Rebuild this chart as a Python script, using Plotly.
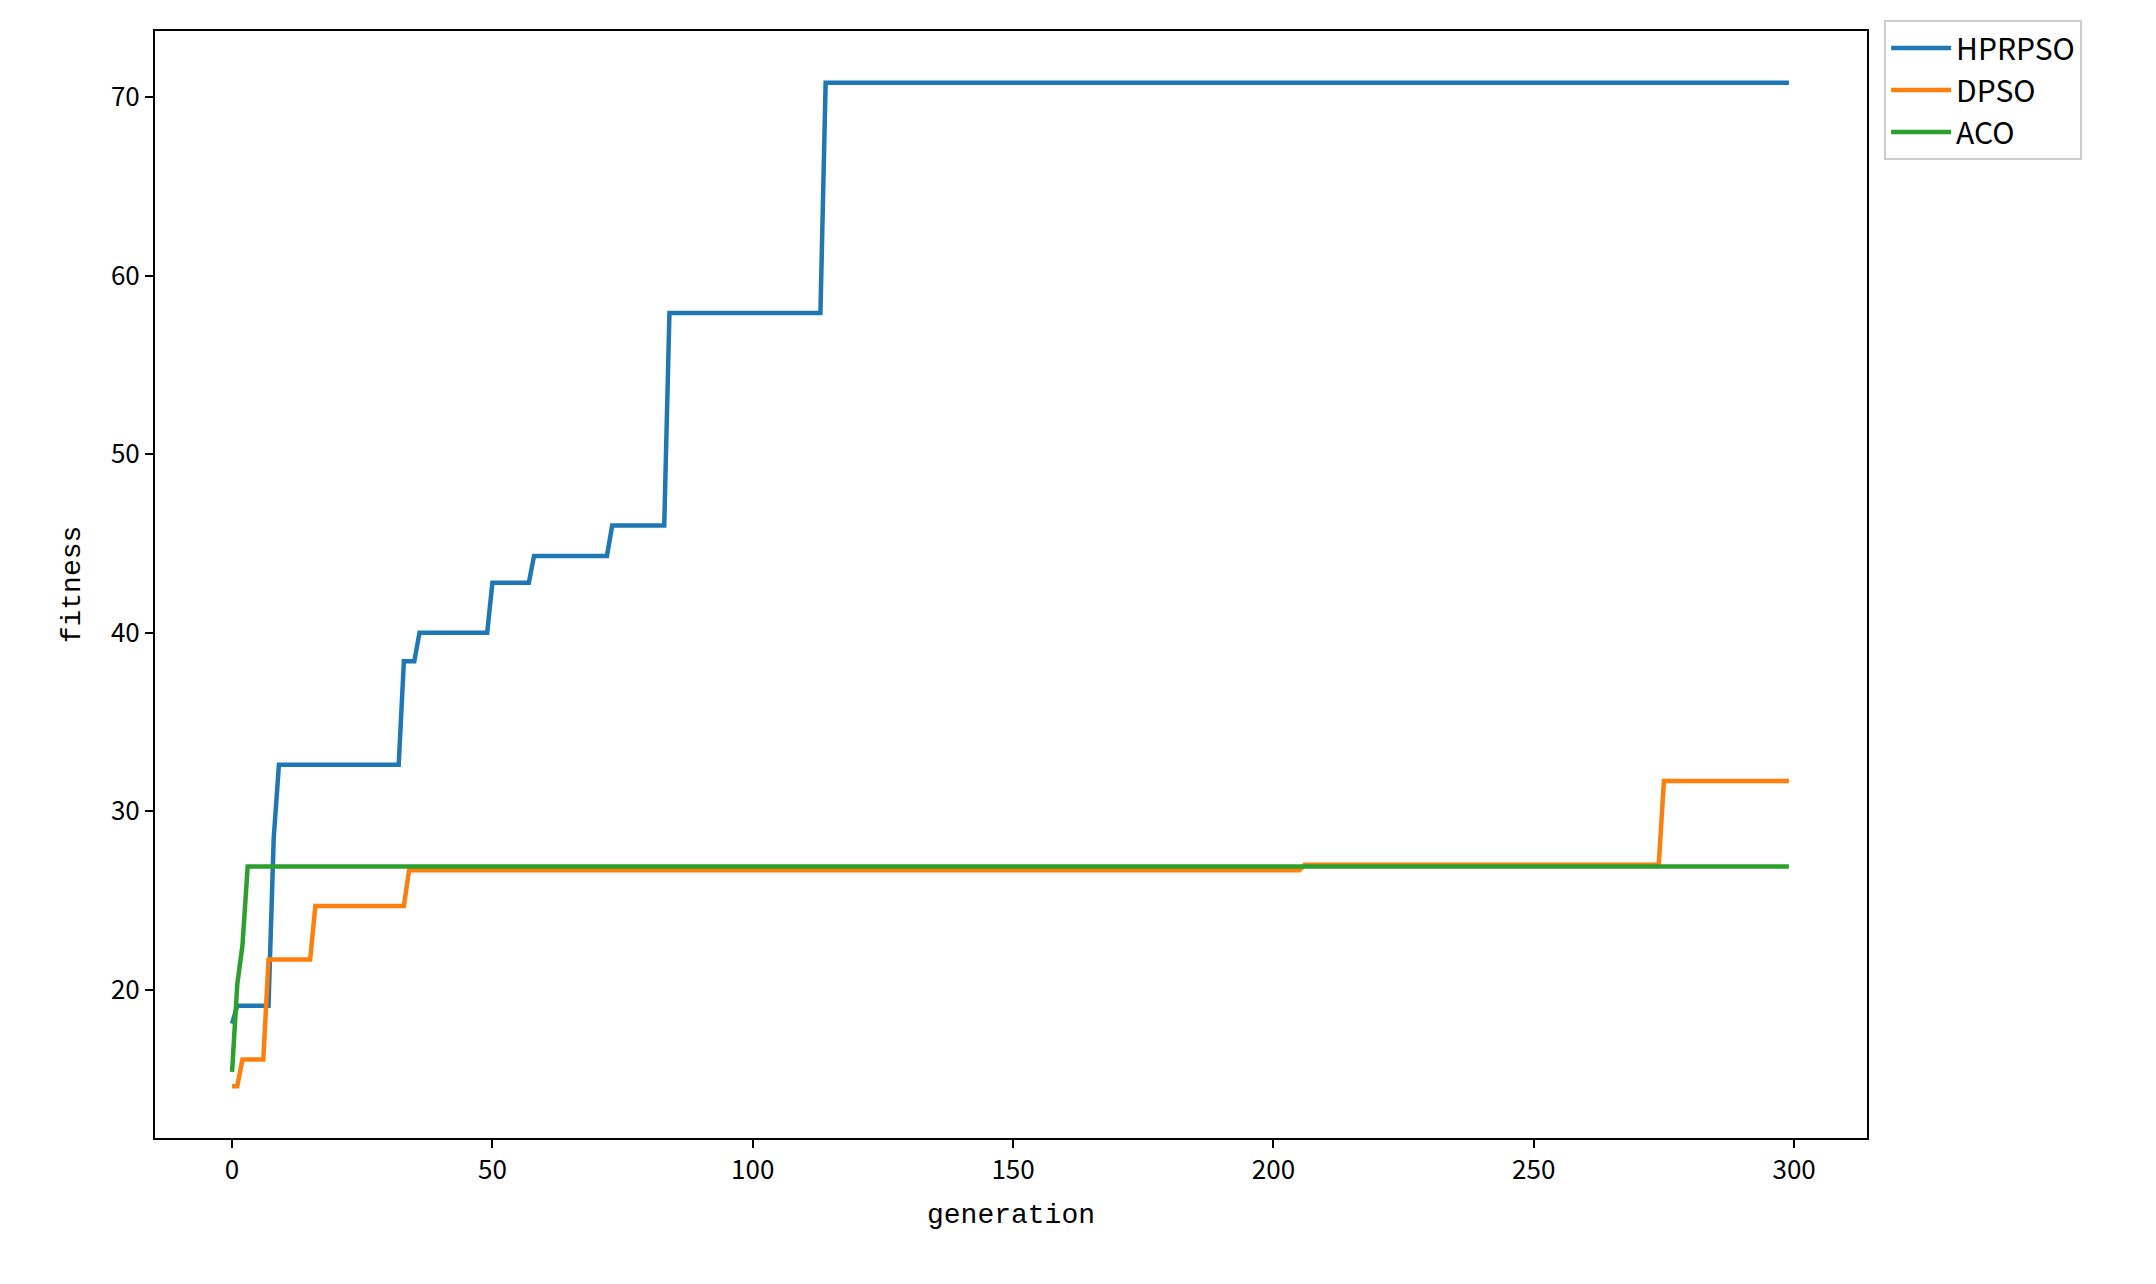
import plotly.graph_objects as go

# change points (generation, best fitness)
hprpso_gen = [0, 1, 7, 8, 9, 32, 33, 35, 36, 49, 50, 57, 58, 72, 73, 83, 84, 113, 114, 299]
hprpso_fit = [18.1, 19.1, 19.1, 28.5, 32.6, 32.6, 38.4, 38.4, 40.0, 40.0, 42.8, 42.8, 44.3, 44.3,
              46.0, 46.0, 57.9, 57.9, 70.8, 70.8]
dpso_gen = [0, 1, 2, 6, 7, 15, 16, 33, 34, 205, 206, 274, 275, 299]
dpso_fit = [14.6, 14.6, 16.1, 16.1, 21.7, 21.7, 24.7, 24.7, 26.7, 26.7, 27.0, 27.0, 31.7, 31.7]
aco_gen = [0, 1, 2, 3, 299]
aco_fit = [15.4, 20.3, 22.5, 26.9, 26.9]

font = "Noto Sans CJK SC, SimHei, DejaVu Sans"
mono = "Liberation Mono, DejaVu Sans Mono"

fig = go.Figure()
for name, x, y, c in [("HPRPSO", hprpso_gen, hprpso_fit, "#1f77b4"),
                      ("DPSO", dpso_gen, dpso_fit, "#ff7f0e"),
                      ("ACO", aco_gen, aco_fit, "#2ca02c")]:
    fig.add_trace(go.Scatter(x=x, y=y, mode="lines", name=name, line=dict(color=c, width=4.5)))

axis = dict(showgrid=False, zeroline=False, showline=True, linecolor="black", linewidth=2,
            mirror=True, ticks="outside", ticklen=8, tickwidth=2, tickcolor="black",
            tickfont=dict(size=26, color="black", family=font))
fig.update_layout(
    width=2156, height=1284,
    paper_bgcolor="white", plot_bgcolor="white",
    margin=dict(l=147, r=297, t=21, b=154),
    font=dict(family=font, color="black"),
    xaxis=dict(axis, range=[-14.8, 314], tickvals=[0, 50, 100, 150, 200, 250, 300],
               title=dict(text="generation", font=dict(size=28, family=mono), standoff=18)),
    yaxis=dict(axis, range=[11.7, 73.7], tickvals=[20, 30, 40, 50, 60, 70],
               title=dict(text="fitness", font=dict(size=28, family=mono), standoff=22)),
    legend=dict(x=1.01, y=1.01, xanchor="left", yanchor="top",
                bordercolor="#cccccc", borderwidth=2, font=dict(size=30),
                bgcolor="white", itemwidth=60, tracegroupgap=8),
)
fig.write_html("out.html")
